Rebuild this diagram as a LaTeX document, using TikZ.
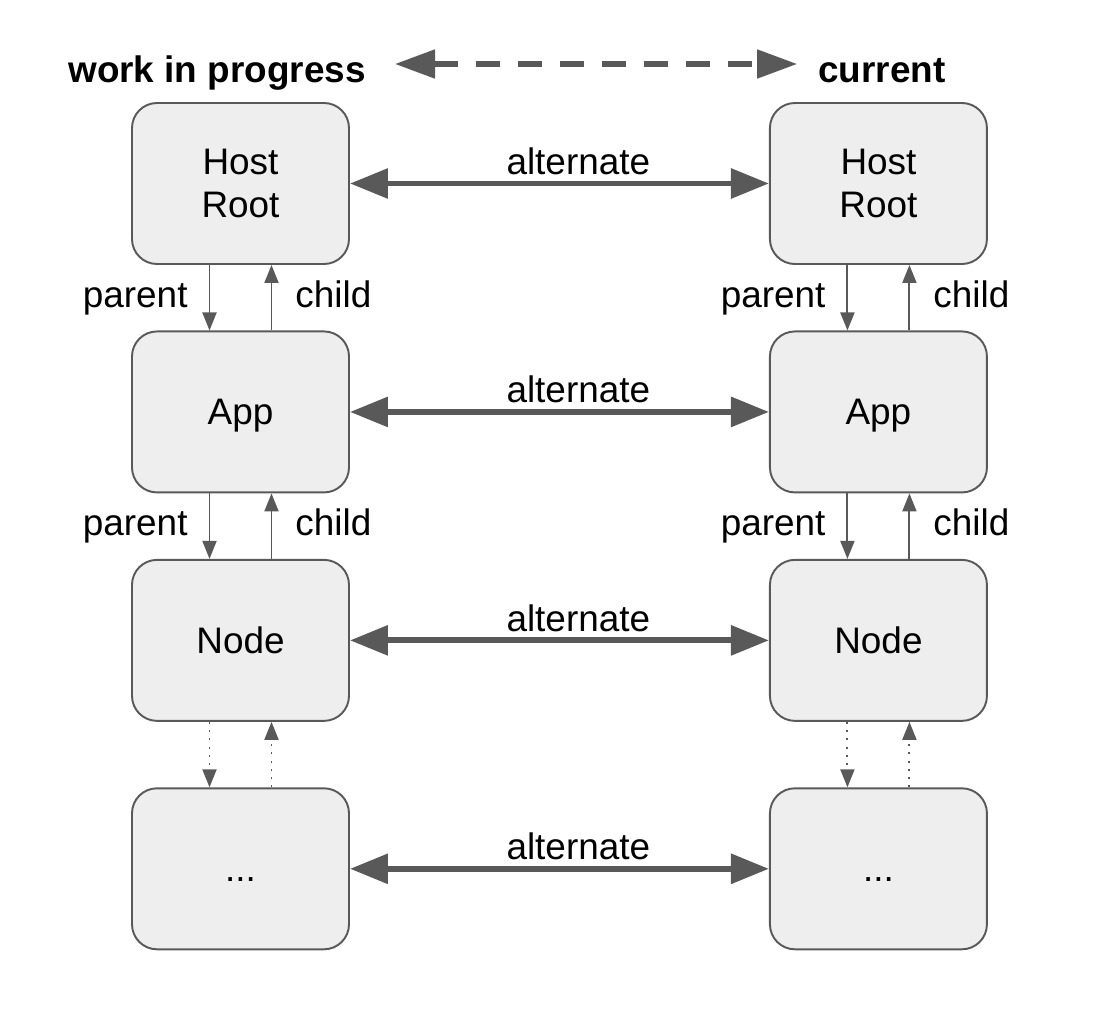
\documentclass[tikz,border=0pt]{standalone}
\usepackage{fontspec}
\setmainfont{Liberation Sans}
\usetikzlibrary{arrows.meta, positioning}
\definecolor{cinzaLinha}{RGB}{89,89,89}
\definecolor{cinzaCaixa}{RGB}{238,238,238}

\begin{document}
\begin{tikzpicture}[
    node distance=1.31cm and 8.38cm,
    fiber/.style={draw=cinzaLinha, fill=cinzaCaixa, line width=1.1pt, rounded corners=0.5cm, minimum width=4.34cm, minimum height=3.22cm, font=\fontsize{21}{24.5}\selectfont},
    rootbox/.style={fiber, align=center},
    linebox/.style={fiber, text height=19pt, text depth=4.45pt},
    title/.style={anchor=base, inner sep=0pt, font=\fontsize{21}{24.5}\selectfont\bfseries},
    lbl/.style={inner sep=0pt, font=\fontsize{21}{24.5}\selectfont},
    sidelbl/.style={lbl, text height=15.1pt, text depth=4.4pt},
    altarrow/.style={line width=3.4pt, draw=cinzaLinha, {Triangle[length=0.76cm, width=0.58cm]}-{Triangle[length=0.76cm, width=0.58cm]}},
    treearrow/.style={line width=1.1pt, draw=cinzaLinha, -{Triangle[length=0.36cm, width=0.28cm]}},
    dotarrow/.style={treearrow, dash pattern=on 1.1pt off 3.6pt},
    toparrow/.style={line width=2.9pt, draw=cinzaLinha, dash pattern=on 0.48cm off 0.36cm, {Triangle[length=0.8cm, width=0.56cm]}-{Triangle[length=0.8cm, width=0.56cm]}}
]
    \useasboundingbox (0,0) rectangle (21.96,-20.32);

    % Titulos
    \node[title] (wip) at (4.34, -1.64) {work in progress};
    \node[title] (cur) at (17.64, -1.64) {current};
    \draw[toparrow] ([xshift=0.58cm, yshift=0.36cm]wip.base east) -- ([xshift=-0.42cm, yshift=0.36cm]cur.base west);

    % Arvore work in progress
    \node[rootbox] (hostW) at (4.81, -3.67) {Host\\Root};
    \node[linebox, below=of hostW] (appW) {App};
    \node[linebox, below=of appW] (nodeW) {Node};
    \node[linebox, below=of nodeW] (moreW) {...};

    % Arvore current
    \node[rootbox, right=of hostW] (hostC) {Host\\Root};
    \node[linebox, right=of appW] (appC) {App};
    \node[linebox, right=of nodeW] (nodeC) {Node};
    \node[linebox, right=of moreW] (moreC) {...};

    % Alternate
    \draw[altarrow] (hostW) -- node[lbl, above=3.4pt, pos=0.545] {alternate} (hostC);
    \draw[altarrow] (appW) -- node[lbl, above=3.4pt, pos=0.545] {alternate} (appC);
    \draw[altarrow] (nodeW) -- node[lbl, above=3.4pt, pos=0.545] {alternate} (nodeC);
    \draw[altarrow] (moreW) -- node[lbl, above=3.4pt, pos=0.545] {alternate} (moreC);

    % Parent / child
    \foreach \side in {W, C} {
        \draw[treearrow] ([xshift=-0.62cm]host\side.south) -- node[sidelbl, left=0.42cm] {parent} ([xshift=-0.62cm]app\side.north);
        \draw[treearrow] ([xshift=0.62cm]app\side.north) -- node[sidelbl, right=0.46cm] {child} ([xshift=0.62cm]host\side.south);
        \draw[treearrow] ([xshift=-0.62cm]app\side.south) -- node[sidelbl, left=0.42cm] {parent} ([xshift=-0.62cm]node\side.north);
        \draw[treearrow] ([xshift=0.62cm]node\side.north) -- node[sidelbl, right=0.46cm] {child} ([xshift=0.62cm]app\side.south);
        \draw[dotarrow] ([xshift=-0.62cm]node\side.south) -- ([xshift=-0.62cm]more\side.north);
        \draw[dotarrow] ([xshift=0.62cm]more\side.north) -- ([xshift=0.62cm]node\side.south);
    }
\end{tikzpicture}
\end{document}
